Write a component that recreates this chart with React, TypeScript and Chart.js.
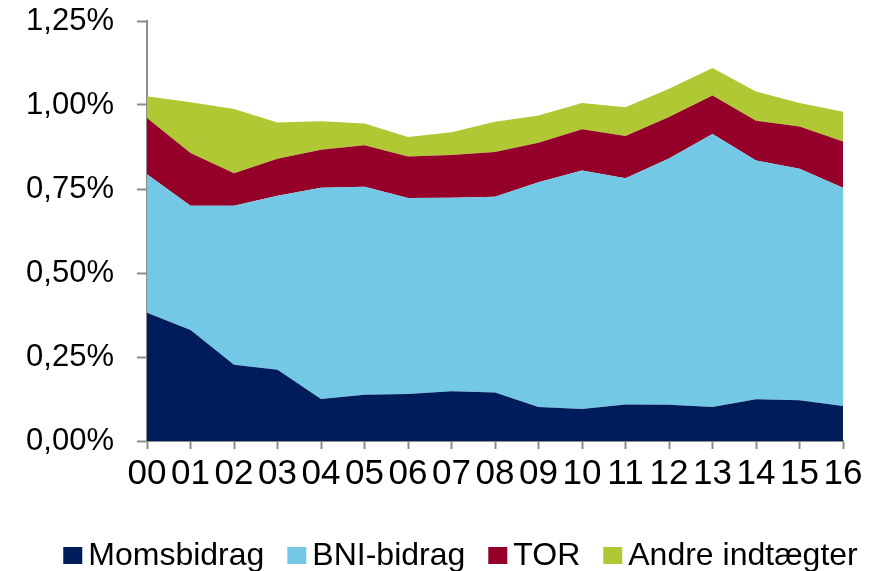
import { useEffect, useRef } from 'react';
import { Chart, registerables } from 'chart.js';

Chart.register(...registerables);

const FONT = '"Liberation Sans", Arial, Helvetica, sans-serif';

const categories = ['00', '01', '02', '03', '04', '05', '06', '07', '08', '09', '10', '11', '12', '13', '14', '15', '16'];
const momsbidrag = [0.382, 0.330, 0.227, 0.212, 0.125, 0.138, 0.140, 0.148, 0.144, 0.101, 0.095, 0.109, 0.108, 0.101, 0.124, 0.121, 0.104];
const bniBidrag = [0.412, 0.370, 0.473, 0.518, 0.629, 0.619, 0.583, 0.576, 0.583, 0.669, 0.710, 0.673, 0.733, 0.813, 0.711, 0.689, 0.650];
const tor = [0.167, 0.157, 0.097, 0.110, 0.113, 0.123, 0.124, 0.127, 0.133, 0.118, 0.123, 0.126, 0.123, 0.114, 0.118, 0.126, 0.137];
const andreIndtaegter = [0.065, 0.151, 0.191, 0.108, 0.085, 0.065, 0.058, 0.068, 0.090, 0.081, 0.078, 0.085, 0.084, 0.082, 0.087, 0.070, 0.089];
const yTicks = [0, 0.25, 0.5, 0.75, 1.0, 1.25];
const seriesLabels = ['Momsbidrag', 'BNI-bidrag', 'TOR', 'Andre indtægter'];
const seriesColors = ['#011c5a', '#72c8e5', '#94002a', '#b0c833'];

const AXIS = '#8c8c8c';

const legendPlugin = {
  id: 'customLegend',
  afterDraw(chart: any) {
    const ctx = chart.ctx;
    ctx.save();
    ctx.font = `32px ${FONT}`;
    const items = chart.data.datasets.map((ds: any) => ({
      label: ds.label,
      color: ds.backgroundColor,
      w: ctx.measureText(ds.label).width,
    }));
    const boxW = 19, boxH = 17, gapBT = 6, gapItem = 23;
    const total = items.reduce((s: number, it: any) => s + boxW + gapBT + it.w, 0) + gapItem * (items.length - 1);
    let x = 460.5 - total / 2;
    for (const it of items) {
      ctx.fillStyle = it.color;
      ctx.fillRect(x, 547, boxW, boxH);
      x += boxW + gapBT;
      ctx.fillStyle = '#000';
      ctx.textBaseline = 'alphabetic';
      ctx.textAlign = 'left';
      ctx.fillText(it.label, x, 565);
      x += it.w + gapItem;
    }
    ctx.restore();
  },
};

export default function App() {
  const ref = useRef<HTMLCanvasElement>(null);

  useEffect(() => {
    if (!ref.current) return;
    const series = [momsbidrag, bniBidrag, tor, andreIndtaegter];
    const chart = new Chart(ref.current, {
      type: 'line',
      data: {
        labels: categories,
        datasets: series.map((data, i) => ({
          label: seriesLabels[i],
          data,
          backgroundColor: seriesColors[i],
          borderColor: seriesColors[i],
          borderWidth: 0,
          pointRadius: 0,
          tension: 0,
          fill: i === 0 ? 'origin' : '-1',
        })),
      },
      options: {
        animation: false,
        responsive: true,
        maintainAspectRatio: false,
        layout: { padding: { top: 21, right: 31, bottom: 0, left: 0 } },
        plugins: {
          legend: { display: false },
          tooltip: { enabled: false },
        },
        scales: {
          x: {
            type: 'category',
            offset: false,
            grid: {
              display: true,
              drawOnChartArea: false,
              drawTicks: true,
              tickLength: 8,
              tickWidth: 2,
              tickColor: AXIS,
              offset: false,
            },
            border: { display: true, color: AXIS, width: 2 },
            ticks: {
              autoSkip: false,
              maxRotation: 0,
              minRotation: 0,
              padding: 4,
              color: '#000',
              font: { family: FONT, size: 35 },
            },
            afterFit: (scale: any) => {
              scale.height = 130;
              scale.paddingLeft = 0;
              scale.paddingRight = 0;
            },
          },
          y: {
            stacked: true,
            min: 0,
            max: 1.25,
            grid: {
              display: true,
              drawOnChartArea: false,
              drawTicks: true,
              tickLength: 10,
              tickWidth: 2,
              tickColor: AXIS,
            },
            border: { display: true, color: AXIS, width: 2 },
            afterBuildTicks: (scale: any) => {
              scale.ticks = yTicks.map((v) => ({ value: v }));
            },
            ticks: {
              padding: 23,
              color: '#000',
              font: { family: FONT, size: 31 },
              callback: (v: any) => Number(v).toFixed(2).replace('.', ',') + '%',
            },
            afterFit: (scale: any) => {
              scale.width = 147;
              scale.paddingTop = 0;
              scale.paddingBottom = 0;
            },
          },
        },
      },
      plugins: [legendPlugin],
    });
    return () => chart.destroy();
  }, []);

  return (
    <div style={{ position: 'fixed', left: 0, top: 0, width: 874, height: 571, background: '#fff' }}>
      <canvas ref={ref} />
    </div>
  );
}
